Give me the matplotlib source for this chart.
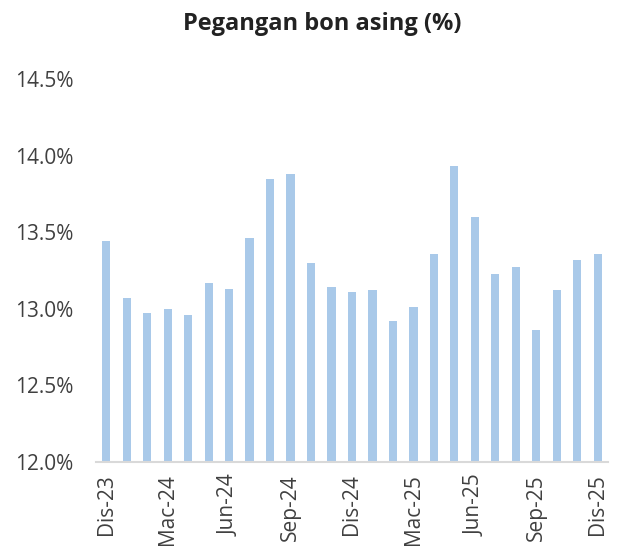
import matplotlib
matplotlib.use("Agg")
import matplotlib.pyplot as plt
import matplotlib.ticker as mtick

months = ["Dis-23", "Jan-24", "Feb-24", "Mac-24", "Apr-24", "Mei-24", "Jun-24",
          "Jul-24", "Ogo-24", "Sep-24", "Okt-24", "Nov-24", "Dis-24",
          "Jan-25", "Feb-25", "Mac-25", "Apr-25", "Mei-25", "Jun-25",
          "Jul-25", "Ogo-25", "Sep-25", "Okt-25", "Nov-25", "Dis-25"]
foreignHolding = [13.44, 13.07, 12.97, 13.00, 12.96, 13.17, 13.13,
                  13.46, 13.85, 13.88, 13.30, 13.14, 13.11,
                  13.12, 12.92, 13.01, 13.36, 13.93, 13.60,
                  13.23, 13.27, 12.86, 13.12, 13.32, 13.36]
yTicks = [12.0, 12.5, 13.0, 13.5, 14.0, 14.5]

plt.rcParams['font.family'] = ['Open Sans', 'DejaVu Sans']

fig = plt.figure(figsize=(6.21, 5.52), dpi=100)
ax = fig.add_axes([0.1546, 0.163, 0.8244, 0.694])

x = list(range(len(months)))
ax.bar(x, [v - 12.0 for v in foreignHolding], bottom=12.0, width=0.4,
       color="#A9C9E9")

ax.set_xlim(-0.5, len(months) - 0.5)
ax.set_ylim(12.0, 14.5)
ax.set_yticks(yTicks)
ax.yaxis.set_major_formatter(mtick.FuncFormatter(lambda v, p: "{:.1f}%".format(v)))
ax.set_xticks(x[::3])
ax.set_xticklabels(months[::3], rotation=90)
ax.tick_params(axis='both', length=0, labelsize=15, colors="#404040")
ax.tick_params(axis='y', pad=16)
ax.tick_params(axis='x', pad=9)

for side in ['top', 'right', 'left']:
    ax.spines[side].set_visible(False)
ax.spines['bottom'].set_color("#D9D9D9")
ax.spines['bottom'].set_linewidth(1.5)

fig.suptitle("Pegangan bon asing (%)", x=0.519, y=0.978, fontsize=17,
             fontweight='bold', color="#222222")

fig.savefig("out.png", dpi=100)
